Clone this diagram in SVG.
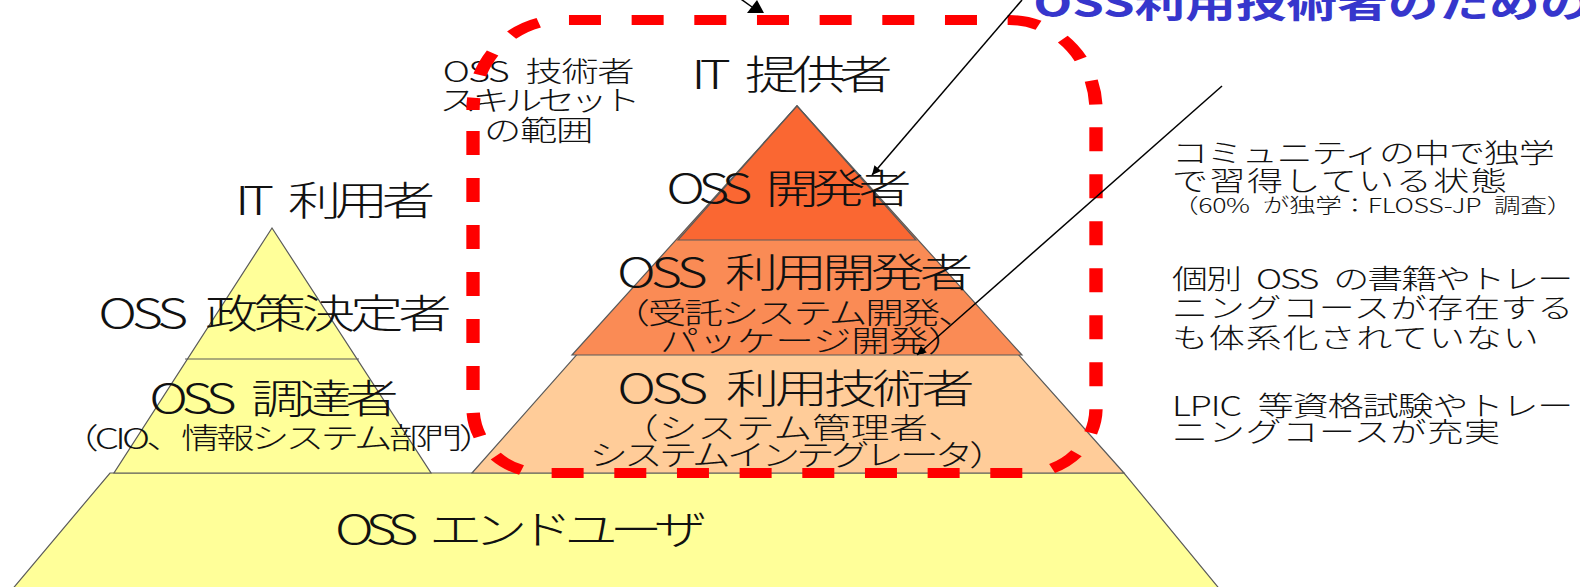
<svg xmlns="http://www.w3.org/2000/svg" width="1580" height="587" viewBox="0 0 1580 587">
<style>
  .t { font-family: "Noto Sans CJK JP", "Noto Sans", sans-serif; fill: #111; font-weight: 300; }
  .big { font-size: 40px; text-anchor: middle; }
  .mid { font-size: 29px; text-anchor: middle; }
  .lab { font-size: 28px; text-anchor: middle; }
  .side { font-size: 27px; }
  .small { font-size: 20px; }
  .title { font-family: "Noto Sans CJK JP", "Noto Sans", sans-serif; font-size: 38px; font-weight: bold; fill: #3636cc; }
  .shape { stroke: #5a5a5a; stroke-width: 1.2; }
  .conn { stroke: #000; stroke-width: 1.5; fill: none; }
</style>
<defs>
  <marker id="ah" viewBox="0 0 10 10" refX="10" refY="5" markerWidth="12" markerHeight="9" markerUnits="userSpaceOnUse" orient="auto">
    <path d="M0,0 L10,5 L0,10 z" fill="#000"/>
  </marker>
</defs>
<rect width="1580" height="587" fill="#fff"/>

<g id="enduser">
  <polygon class="shape" points="110,473 1124,473 1222,592 10,592" fill="#ffff99"/>
</g>
<g id="it-user-pyramid">
  <polygon class="shape" points="272,228 431,473 114,473" fill="#ffff99"/>
  <line class="shape" x1="185" y1="359" x2="359" y2="359"/>
</g>
<g id="it-provider-pyramid">
  <polygon class="shape" points="797,106 1124,473 472,473" fill="#ffcc99"/>
  <polygon class="shape" points="797,106 1022,355 572,355" fill="#fa8b55"/>
  <polygon class="shape" points="797,106 916,240 678,240" fill="#fa6732"/>
</g>

<g id="labels" transform="scale(1.3333333,1)">
  <text class="t big" x="251.25" y="215" textLength="150">IT&#8194;利用者</text>
  <text class="t big" x="206.25" y="328" textLength="265">OSS&#8194;政策決定者</text>
  <text class="t big" x="205.5" y="413" textLength="187">OSS&#8194;調達者</text>
  <text class="t mid" x="209" y="449" textLength="328">（CIO、情報システム部門）</text>
  <text class="t big" x="390.75" y="544" textLength="279">OSS&#8194;エンドユーザ</text>
  <text class="t big" x="594" y="89" textLength="151">IT&#8194;提供者</text>
  <text class="t big" x="591.75" y="203" textLength="184">OSS&#8194;開発者</text>
  <text class="t big" x="596.25" y="287" textLength="267">OSS&#8194;利用開発者</text>
  <text class="t mid" x="595.5" y="324" textLength="274">（受託システム開発、</text>
  <text class="t mid" x="610" y="352" textLength="230">パッケージ開発）</text>
  <text class="t big" x="597" y="403" textLength="268">OSS&#8194;利用技術者</text>
  <text class="t mid" x="595" y="439" textLength="260">（システム管理者、</text>
  <text class="t mid" x="599" y="466" textLength="314">システムインテグレータ）</text>
  <text class="t lab" x="404" y="82" textLength="144">OSS&#8194;技術者</text>
  <text class="t lab" x="405" y="111" textLength="151">スキルセット</text>
  <text class="t lab" x="404" y="141" textLength="82">の範囲</text>
  <text class="t side" x="879" y="163" textLength="287">コミュニティの中で独学</text>
  <text class="t side" x="879" y="191" textLength="251">で習得している状態</text>
  <text class="t small" x="879" y="213" textLength="301">（60%&#8194;が独学：FLOSS-JP&#8194;調査）</text>
  <text class="t side" x="879" y="289" textLength="301">個別&#8194;OSS&#8194;の書籍やトレー</text>
  <text class="t side" x="879" y="318" textLength="301">ニングコースが存在する</text>
  <text class="t side" x="879" y="348" textLength="275">も体系化されていない</text>
  <text class="t side" x="879" y="416" textLength="301">LPIC&#8194;等資格試験やトレー</text>
  <text class="t side" x="879" y="442" textLength="246">ニングコースが充実</text>
  <text class="title" x="775" y="17">OSS利用技術者のためのカ</text>
</g>

<g id="skill-scope" transform="scale(1.3333333,1)">
  <path d="M354.75,110 L354.75,408 A52,65 0 0 0 406.75,473 L770,473 A52,65 0 0 0 822,408 L822,110 A65,90 0 0 0 757,20 L419.75,20 A65,90 0 0 0 354.75,110 Z" fill="none" stroke="#ff0000" stroke-width="10" stroke-dasharray="24 23" stroke-dashoffset="26"/>
</g>

<g id="connectors">
  <line class="conn" x1="738" y1="-3" x2="752" y2="7"/>
  <polygon points="747,13 764,13 757,0" fill="#000"/>
  <line class="conn" x1="1022" y1="0" x2="872" y2="175" marker-end="url(#ah)"/>
  <line class="conn" x1="1222" y1="86" x2="917" y2="355" marker-end="url(#ah)"/>
</g>
</svg>
